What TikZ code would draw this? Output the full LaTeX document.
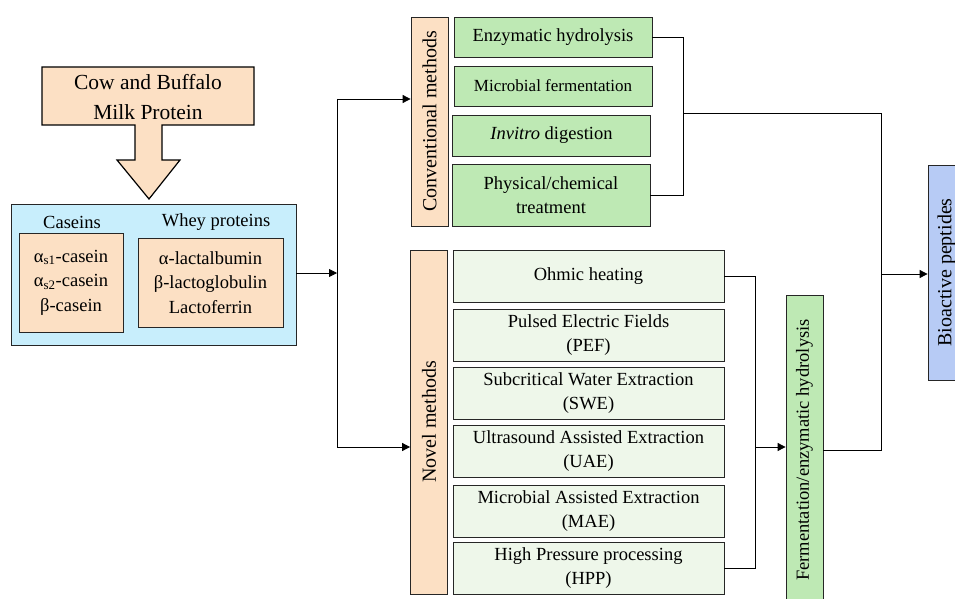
\documentclass[tikz,border=0pt]{standalone}
\usepackage{fontspec}
\setmainfont{Liberation Serif}
\usepackage{graphicx}
\usetikzlibrary{arrows.meta,calc}
\definecolor{peach}{RGB}{252,224,196}
\definecolor{sky}{RGB}{200,238,252}
\definecolor{leaf}{RGB}{190,233,180}
\definecolor{mint}{RGB}{238,247,234}
\definecolor{periw}{RGB}{183,203,245}
\newcommand{\fsz}[2]{\fontsize{#1}{#2}\selectfont}

\begin{document}
\begin{tikzpicture}[x=1pt,y=-1pt,line width=0.8pt,font=\fsz{18.5}{24.5},
 box/.style={draw=black!85,align=center,inner sep=0pt},
 vbox/.style={box,minimum width=37pt,font=\fsz{20}{24}},
 arr/.style={-{Triangle[length=8pt,width=8pt]}}]
 \useasboundingbox (0,0) rectangle (955,599);\clip (0,0) rectangle (955,599);
 % source and its big arrow
 \draw[fill=peach,line width=1.2pt] (42,67)--(254,67)--(254,125)--(162,125)--(162,160)--(180,160)--(149,199)--(117,160)--(135,160)--(135,125)--(42,125)--cycle;
 \node[align=center,font=\fsz{21.5}{30}] (src) at (148,97) {Cow and Buffalo\\Milk Protein};
 \node[box,fill=sky,minimum width=285pt,minimum height=141pt] (milk) at (153.5,274.5) {};
 \node (caslbl) at (72,222) {Caseins};
 \node (wheylbl) at (216,222) {Whey proteins};
 \node[box,fill=peach,minimum width=104pt,minimum height=99pt] (cas) at (71,282.5) {α\textsubscript{s1}-casein\\α\textsubscript{s2}-casein\\β-casein};
 \node[box,fill=peach,minimum width=145pt,minimum height=89pt] (whey) at (210.5,282.5) {α-lactalbumin\\β-lactoglobulin\\Lactoferrin};
 % methods
 \node[vbox,fill=peach,minimum height=209pt] (conv) at (429.5,121.5) {\rotatebox{90}{Conventional methods}};
 \node[vbox,fill=peach,minimum height=344pt] (nv) at (429,422) {\rotatebox{90}{Novel methods}};
 \foreach \n/\x/\y/\h/\t in {e1/553/37/40/Enzymatic hydrolysis,e2/553/86/40/{\fsz{17}{21}Microbial fermentation},
   e3/551.5/135.5/41/{\textit{Invitro} digestion},e4/551/195/62/{Physical/chemical\\treatment}}
  \node[box,fill=leaf,minimum width=198pt,minimum height=\h pt] (\n) at (\x,\y) {\t};
 \foreach \y/\t [count=\i] in {276/Ohmic heating,335/{Pulsed Electric Fields\\(PEF)},393/{Subcritical Water Extraction\\(SWE)},
   451/{Ultrasound Assisted Extraction\\(UAE)},511/{Microbial Assisted Extraction\\(MAE)},568/{High Pressure processing\\(HPP)}}
  \node[box,fill=mint,minimum width=271pt,minimum height=52pt] (n\i) at (588.5,\y) {\t};
 \node[vbox,fill=leaf,minimum height=310pt,font=\fsz{18.5}{22}] (ferm) at (804.5,450) {\rotatebox{90}{Fermentation/enzymatic hydrolysis}};
 \node[vbox,fill=periw,minimum height=215pt] (bio) at (946.5,272.5) {\rotatebox{90}{Bioactive peptides}};
 % connectors
 \coordinate (jn) at (337,273);\coordinate (ja) at (337,99);\coordinate (jb) at (337,447);
 \coordinate (cb) at (683,113);\coordinate (nb) at (755,447);\coordinate (rb) at (881,274);
 \draw[arr] (jn -| milk.east) -- (jn);
 \draw (ja) -- (jb);
 \draw[arr] (ja) -- (ja -| conv.west);
 \draw[arr] (jb) -- (jb -| nv.west);
 \draw (e1.east) -| (cb) |- (e4.east);
 \draw (n1.east) -| (nb) |- (n6.east);
 \draw[arr] (nb) -- (nb -| ferm.west);
 \draw (cb) -- (cb -| rb) -- (rb |- ferm.east) -- (ferm.east);
 \draw[arr] (rb) -- (rb -| bio.west);
\end{tikzpicture}
\end{document}
